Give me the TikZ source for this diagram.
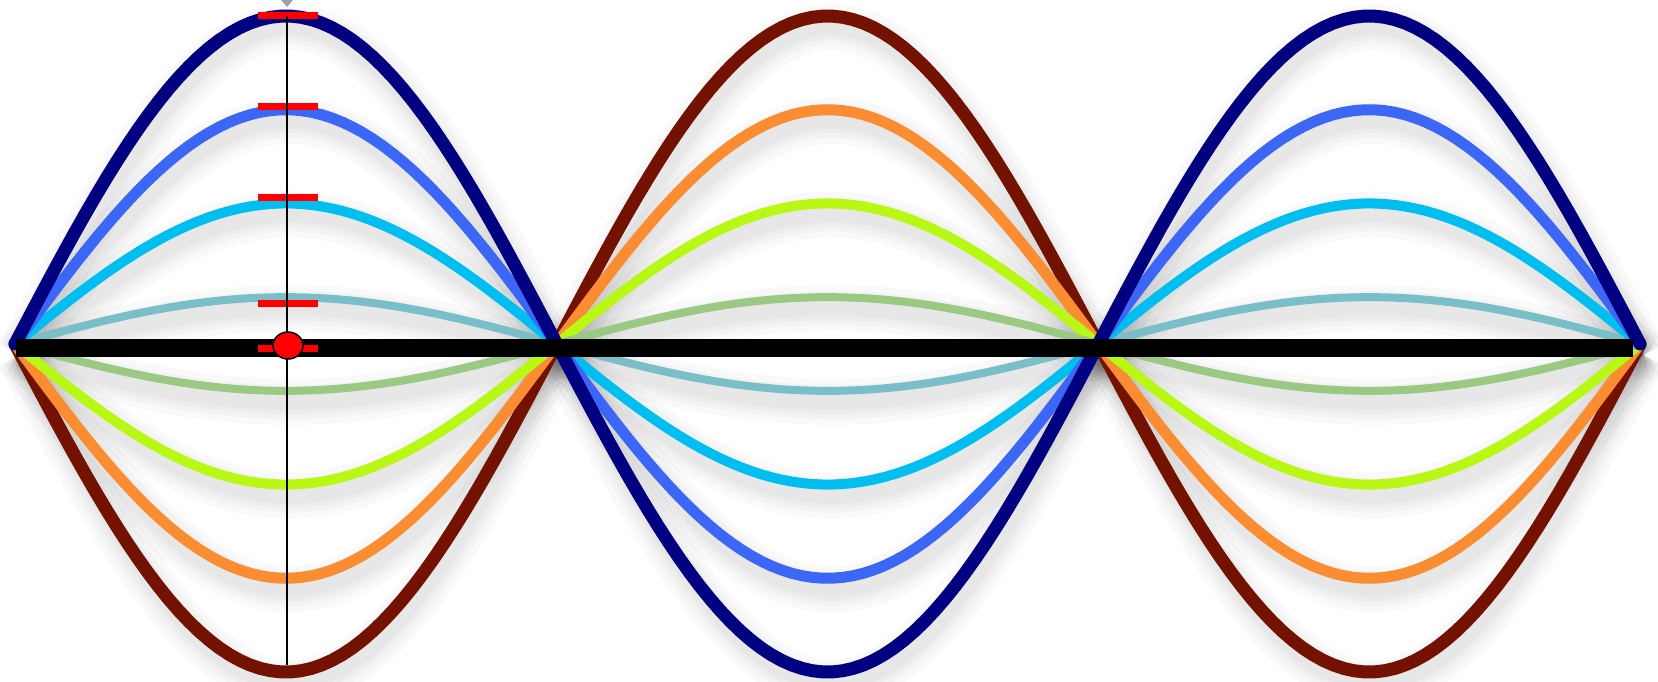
\documentclass[tikz,border=0pt]{standalone}
\usetikzlibrary{shapes.geometric}
\definecolor{WaveNavy}{RGB}{0,0,128}
\definecolor{WaveBlue}{RGB}{60,102,245}
\definecolor{WaveCyan}{RGB}{0,190,240}
\definecolor{WaveTeal}{RGB}{122,190,200}
\definecolor{WaveGreen}{RGB}{155,200,130}
\definecolor{WaveLime}{RGB}{185,248,20}
\definecolor{WaveOrange}{RGB}{250,140,50}
\definecolor{WaveBrown}{RGB}{115,18,0}

\tikzset{
  wave/.style={line width=#1,line cap=round,line join=round},
  halo/.style={line width=#1,black,opacity=0.022,line cap=butt},
  redmark/.style={fill=red,draw=none},
}

\begin{document}
\begin{tikzpicture}[x=1pt,y=-1pt]
\clip (0,0) rectangle (1658,681);
\fill[white] (0,0) rectangle (1658,681);

% soft shadows under the strings
\foreach \k in {7,5,3,1,-1,-3,-5,-7}
  \foreach \w in {46,34,24,16}
    \draw[halo=\w pt,shift={(4,11)}] plot[domain=15:1640,samples=160]
      (\x,{344-\k*46.86*sin(0.33231*(\x-15))});

% standing wave snapshots
\foreach \k/\clr/\w in {-7/WaveBrown/13,-5/WaveOrange/11,-3/WaveLime/10,-1/WaveGreen/8,
                        1/WaveTeal/8,3/WaveCyan/10,5/WaveBlue/11,7/WaveNavy/13}
  \draw[wave=\w pt,\clr] plot[domain=15:1640,samples=160]
    (\x,{344-\k*46.86*sin(0.33231*(\x-15))});

% rest position
\fill[black] (16,339) rectangle (1633,357);

% height marks
\foreach \yy in {15.5,106.5,197,303,348.5}
  \fill[redmark] (258,{\yy-3.5}) rectangle (318,{\yy+3.5});

\coordinate (top) at (287,16);
\coordinate (foot) at (287,665);
\draw[line width=1.8pt] (top) -- (foot);

\node[diamond,fill=gray!75,minimum width=12pt,minimum height=14pt,inner sep=0pt] (pin) at (287,0) {};
\node[ellipse,draw=black,line width=1.5pt,fill=red,minimum width=30pt,minimum height=27pt,inner sep=0pt] (bead) at (288,345.5) {};
\end{tikzpicture}
\end{document}
